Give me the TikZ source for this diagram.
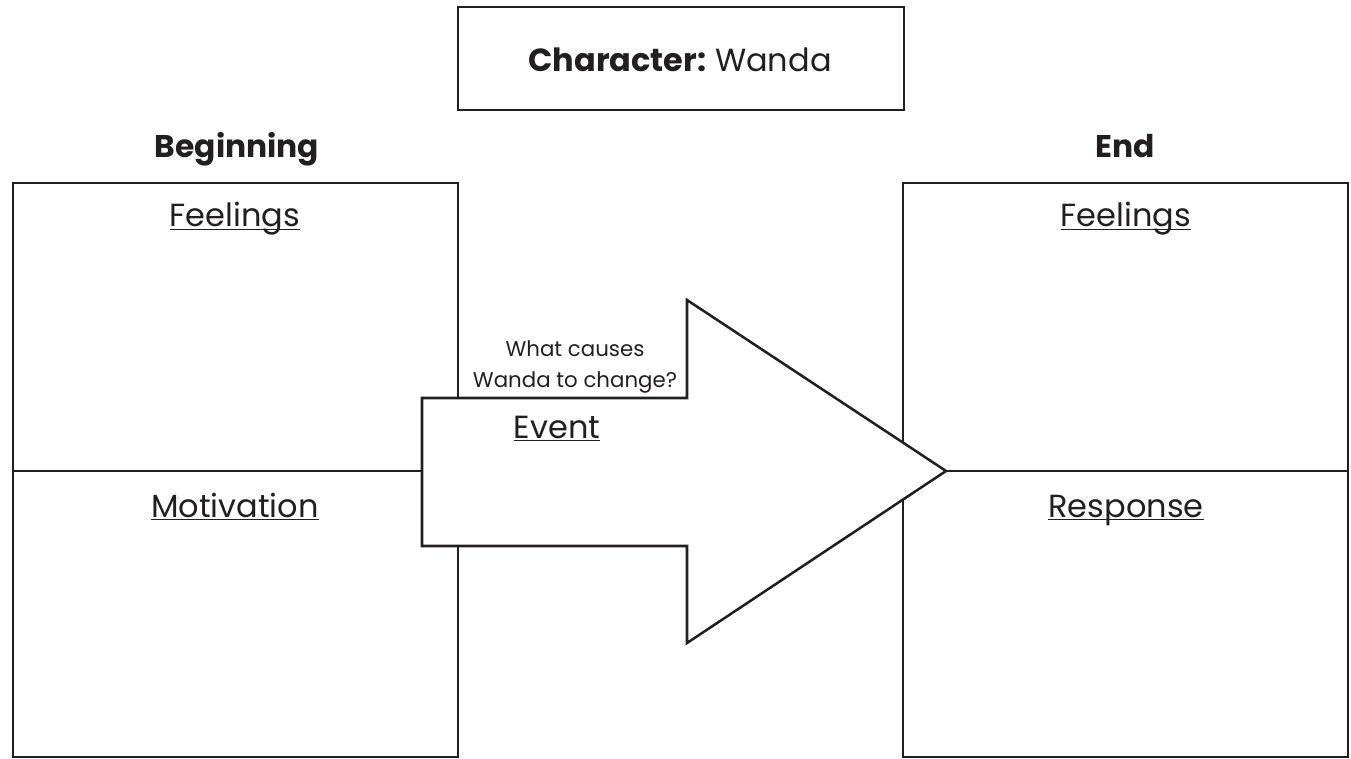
\documentclass[tikz,border=0pt]{standalone}
\usepackage{fontspec}
\setmainfont{Poppins}
\usetikzlibrary{positioning}

\definecolor{ink}{HTML}{231F20}

\tikzset{
  frame/.style={draw=ink, line width=1.9pt},
  heading/.style={font=\fontsize{23.5}{28}\selectfont\bfseries, text=ink, inner sep=0pt, anchor=base},
  celltitle/.style={font=\fontsize{24}{28}\selectfont, text=ink, inner sep=0pt, anchor=base},
  question/.style={font=\fontsize{16}{23}\selectfont, text=ink, inner sep=0pt, align=center, anchor=base},
  uline/.style={draw=ink, line width=1pt}
}

\begin{document}
\begin{tikzpicture}[x=0.75pt, y=-0.75pt]
  \useasboundingbox (0,0) rectangle (1351,759);

  % Character box
  \draw[frame] (458,7) rectangle (904,110);
  \node[celltitle] (char) at (680,72) {\textbf{Character:}\hspace{-2pt} Wanda};

  % Column headings
  \node[heading] (begin) at (237,158) {Beginning};
  \node[heading] (end) at (1125,158) {End};

  % Beginning and end boxes, split in two
  \foreach \x in {13,903}
    \draw[frame] (\x,183) rectangle ++(445,574) (\x,471) -- ++(445,0);

  % Event arrow (white, over the boxes)
  \draw[frame, fill=white] (422,398) -- (687,398) -- (687,300) -- (946,471)
    -- (687,643) -- (687,546) -- (422,546) -- cycle;

  % Cell titles
  \node[celltitle] (lfeel) at (235,227) {Feelings};
  \node[celltitle] (lmot) at (235,517) {Motivation};
  \node[celltitle] (rfeel) at (1126,227) {Feelings};
  \node[celltitle] (rresp) at (1126,517) {Response};
  \node[celltitle] (event) at (557,438) {Event};
  \node[question] (ask) at (575,387) {What causes\\Wanda to change?};

  % Underlines
  \foreach \n in {lfeel,lmot,rfeel,rresp,event}
    \draw[uline] ([yshift=-1.8pt]\n.base west) -- ([yshift=-1.8pt]\n.base east);
\end{tikzpicture}
\end{document}
